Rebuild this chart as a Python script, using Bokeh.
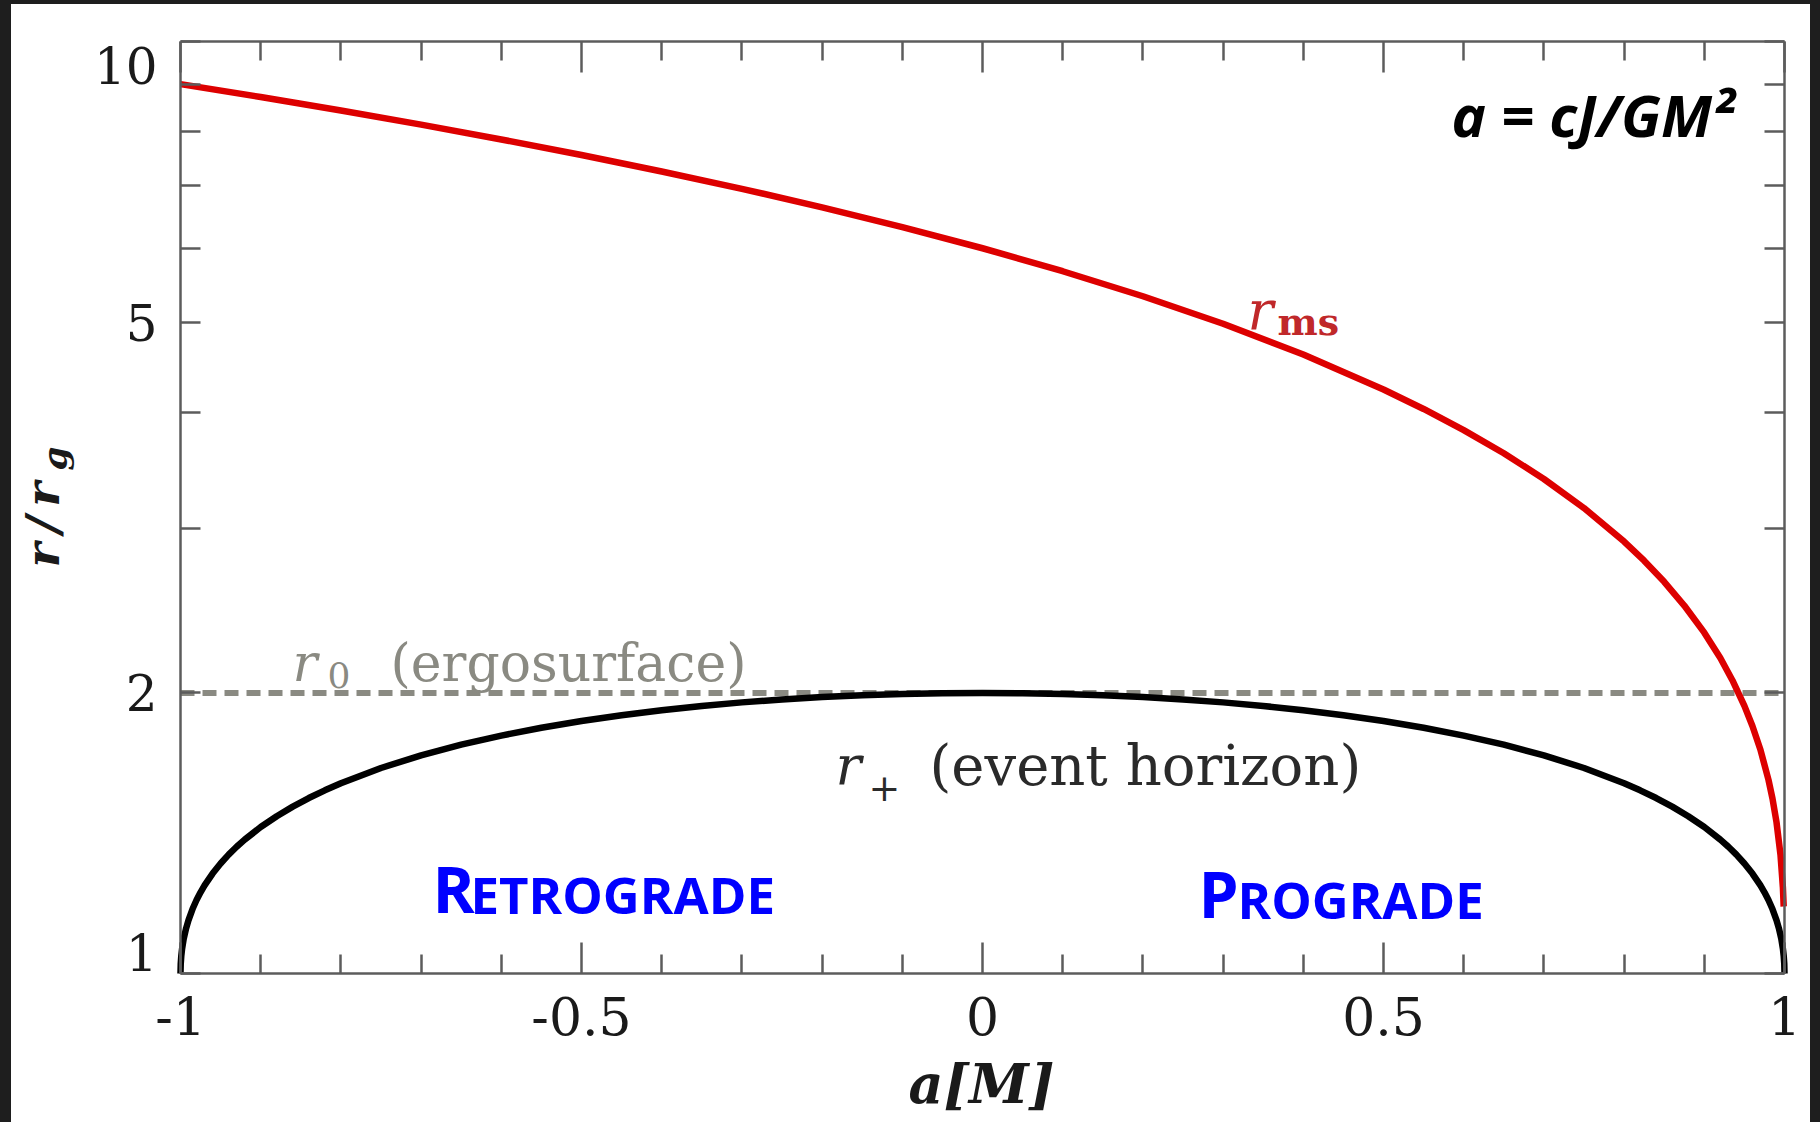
import math
from bokeh.plotting import figure
from bokeh.models import (FixedTicker, LinearAxis, LogAxis, Label, Range1d,
                          Spacer, CustomJSTickFormatter)
from bokeh.layouts import row, column
from bokeh.embed import file_html
from bokeh.resources import INLINE

# ---------------- data ----------------
spin_ms = [-1.0, -0.9, -0.8, -0.7, -0.6, -0.5, -0.4, -0.3, -0.2, -0.1, 0.0,
           0.1, 0.2, 0.3, 0.4, 0.5, 0.55, 0.6, 0.65, 0.7, 0.75, 0.8, 0.825, 0.85,
           0.875, 0.9, 0.92, 0.935, 0.95, 0.96, 0.97, 0.98, 0.985, 0.99, 0.995,
           0.998, 0.999]
r_ms = [9.0, 8.717, 8.432, 8.143, 7.851, 7.555, 7.254, 6.949, 6.639, 6.323, 6.0,
        5.669, 5.329, 4.979, 4.614, 4.233, 4.034, 3.829, 3.616, 3.393, 3.158, 2.907, 2.773, 2.632,
        2.482, 2.321, 2.180, 2.064, 1.937, 1.843, 1.738, 1.614, 1.541, 1.454, 1.341,
        1.237, 1.18]

spin_h = [-1.0, -0.9997, -0.999, -0.998, -0.996, -0.993, -0.99, -0.985, -0.98, -0.975,
          -0.97, -0.96, -0.95, -0.94, -0.93, -0.92, -0.9, -0.88, -0.86, -0.84, -0.82,
          -0.8, -0.75, -0.7, -0.65, -0.6, -0.55, -0.5, -0.45, -0.4, -0.35, -0.3, -0.25,
          -0.2, -0.15, -0.1, -0.05, 0.0, 0.05, 0.1, 0.15, 0.2, 0.25, 0.3, 0.35, 0.4,
          0.45, 0.5, 0.55, 0.6, 0.65, 0.7, 0.75, 0.8, 0.82, 0.84, 0.86, 0.88, 0.9,
          0.92, 0.93, 0.94, 0.95, 0.96, 0.97, 0.975, 0.98, 0.985, 0.99, 0.993, 0.996,
          0.998, 0.999, 0.9997, 1.0]
r_h = [1.0, 1.0245, 1.0447, 1.0632, 1.0894, 1.1181, 1.1411, 1.1726, 1.199, 1.2222,
       1.2431, 1.28, 1.3122, 1.3412, 1.3676, 1.3919, 1.4359, 1.475, 1.5103, 1.5426, 1.5724,
       1.6, 1.6614, 1.7141, 1.7599, 1.8, 1.8352, 1.866, 1.893, 1.9165, 1.9368, 1.9539, 1.9682,
       1.9798, 1.9887, 1.995, 1.9987, 2.0, 1.9987, 1.995, 1.9887, 1.9798, 1.9682, 1.9539, 1.9368, 1.9165,
       1.893, 1.866, 1.8352, 1.8, 1.7599, 1.7141, 1.6614, 1.6, 1.5724, 1.5426, 1.5103, 1.475, 1.4359,
       1.3919, 1.3676, 1.3412, 1.3122, 1.28, 1.2431, 1.2222, 1.199, 1.1726, 1.1411, 1.1181, 1.0894,
       1.0632, 1.0447, 1.0245, 1.0]

r_ergo = 2.0

x_ticks = [-1, -0.5, 0, 0.5, 1]
x_tick_labels = ["-1", "-0.5", "0", "0.5", "1"]
x_minor = [-0.9, -0.8, -0.7, -0.6, -0.4, -0.3, -0.2, -0.1,
           0.1, 0.2, 0.3, 0.4, 0.6, 0.7, 0.8, 0.9]
y_ticks = [1, 2, 5, 10]
y_tick_labels = ["1", "2", "5", "10"]
y_tick_shift = [21, 0, 0, -24]
y_minor = [3, 4, 6, 7, 8, 9]

# ---------------- geometry (page pixels) ----------------
PAGE_L, PAGE_T, PAGE_R = 11, 4, 10
W, H = 1820 - PAGE_L - PAGE_R, 1122 - PAGE_T
FX0, FX1, FY0, FY1 = 180, 1784, 41, 973   # box of the axes on the page


def px_x(X):
    return (X - FX0) / (FX1 - FX0) * (x_ticks[-1] - x_ticks[0]) + x_ticks[0]


def px_y(Y):
    return 10 ** ((FY1 - Y) / (FY1 - FY0))


AX = "#5c5c5c"
SERIF = "DejaVu Serif"
SANS = "Open Sans"
TXT = "#1a1a1a"
MID = {SERIF: 0.346, SANS: 0.388}   # em-box middle above the baseline

p = figure(width=W, height=H,
           x_range=Range1d(px_x(PAGE_L), px_x(PAGE_L + W)),
           y_range=Range1d(px_y(PAGE_T + H), px_y(PAGE_T)),
           y_axis_type="log", x_axis_location=None, y_axis_location=None,
           output_backend="svg", toolbar_location=None, min_border=0,
           background_fill_color="white", border_fill_color="white")
p.outline_line_color = None
for g in p.grid:
    g.visible = False

blank = CustomJSTickFormatter(code="return '';")
xfmt = CustomJSTickFormatter(args=dict(vals=x_ticks, labs=x_tick_labels), code="""
const i = vals.findIndex(v => Math.abs(v - tick) < 1e-9);
return i >= 0 ? labs[i] : '';
""")

xb = (float(x_ticks[0]), float(x_ticks[-1]))
yb = (float(y_ticks[0]), float(y_ticks[-1]))
bottom = LinearAxis(fixed_location=y_ticks[0], bounds=xb, formatter=xfmt)
top = LinearAxis(fixed_location=y_ticks[-1], bounds=xb, formatter=blank)
left = LogAxis(fixed_location=x_ticks[0], bounds=yb, formatter=blank)
right = LogAxis(fixed_location=x_ticks[-1], bounds=yb, formatter=blank)
p.add_layout(bottom, "below")
p.add_layout(top, "above")
p.add_layout(left, "left")
p.add_layout(right, "right")

for ax in [bottom, top]:
    ax.ticker = FixedTicker(ticks=x_ticks, minor_ticks=x_minor)
    ax.major_tick_in, ax.major_tick_out = 31, 0
    ax.minor_tick_in, ax.minor_tick_out = 19, 0
for ax in [left, right]:
    ax.ticker = FixedTicker(ticks=y_ticks, minor_ticks=y_minor)
    ax.major_tick_in, ax.major_tick_out = 20, 0
    ax.minor_tick_in, ax.minor_tick_out = 20, 0
bottom.major_label_text_font = SERIF
bottom.major_label_text_font_size = "52px"
bottom.major_label_text_color = TXT
bottom.major_label_standoff = 23

for ax in [bottom, top, left, right]:
    ax.axis_line_color = AX
    ax.axis_line_width = 2.5
    ax.major_tick_line_color = AX
    ax.major_tick_line_width = 2.5
    ax.minor_tick_line_color = AX
    ax.minor_tick_line_width = 2.5

# ---------------- marks ----------------
p.line([x_ticks[0], x_ticks[-1]], [r_ergo, r_ergo], line_color="#8a8a82",
       line_width=6, line_dash="14 8")
p.line(spin_h, r_h, line_color="black", line_width=6.5, line_join="round")
p.line(spin_ms, r_ms, line_color="#dd0000", line_width=6.5, line_join="round")


def lab(text, X, base, size, color=TXT, font=SERIF, style="normal",
        align="left", angle=0.0):
    """X: left/centre position; base: baseline position (page pixels)."""
    shift = MID[font] * size
    if angle:
        xx, yy = X - shift, base
    else:
        xx, yy = X, base - shift
    p.add_layout(Label(x=px_x(xx), y=px_y(yy), text=text, text_font=font,
                       text_font_size=f"{size}px", text_font_style=style,
                       text_color=color, text_align=align, text_baseline="middle",
                       angle=angle))


# y tick labels
for v, t, s in zip(y_ticks, y_tick_labels, y_tick_shift):
    p.add_layout(Label(x=px_x(157), y=v, y_offset=s, text=t, text_font=SERIF,
                       text_font_size="50px", text_color=TXT,
                       text_align="right", text_baseline="middle"))

# axis titles
lab("a[M]", 981, 1102, 54, style="bold italic", align="center")
lab("r\u2009/\u2009r", 58, 567, 47, style="bold italic", angle=math.pi / 2)
lab("g", 66, 470, 34, style="bold italic", angle=math.pi / 2)

# curve annotations
GREY = "#8a8a82"
lab("r", 292, 680, 52, color=GREY, style="italic")
lab("0", 327, 687, 36, color=GREY)
lab("(ergosurface)", 390, 680, 52, color=GREY)

DARK = "#2a2a2a"
lab("r", 835, 784, 54, color=DARK, style="italic")
lab("+", 868, 800, 38, color=DARK)
lab("(event horizon)", 929, 784, 56, color=DARK)

RED = "#c0282a"
lab("r", 1247, 329, 54, color=RED, style="italic")
lab("ms", 1277, 334, 38, color=RED, style="bold")

# formula and region names
lab("a = cJ/GM\u00b2", 1451, 137, 58, color="black", font=SANS, style="bold italic")
BLUE = "#0000ff"
lab("R", 432, 913, 64, color=BLUE, font=SANS, style="bold")
lab("ETROGRADE", 470, 913, 51, color=BLUE, font=SANS, style="bold")
lab("P", 1198, 918, 64, color=BLUE, font=SANS, style="bold")
lab("ROGRADE", 1237, 918, 51, color=BLUE, font=SANS, style="bold")

# ---------------- page ----------------
DARKBG = {"background-color": "#1e1e1e"}
layout = row(
    Spacer(width=PAGE_L, height=1122, styles=DARKBG),
    column(Spacer(width=W, height=PAGE_T, styles=DARKBG), p),
    Spacer(width=PAGE_R, height=1122, styles=DARKBG),
)

open("out.html", "w").write(file_html(layout, INLINE))
